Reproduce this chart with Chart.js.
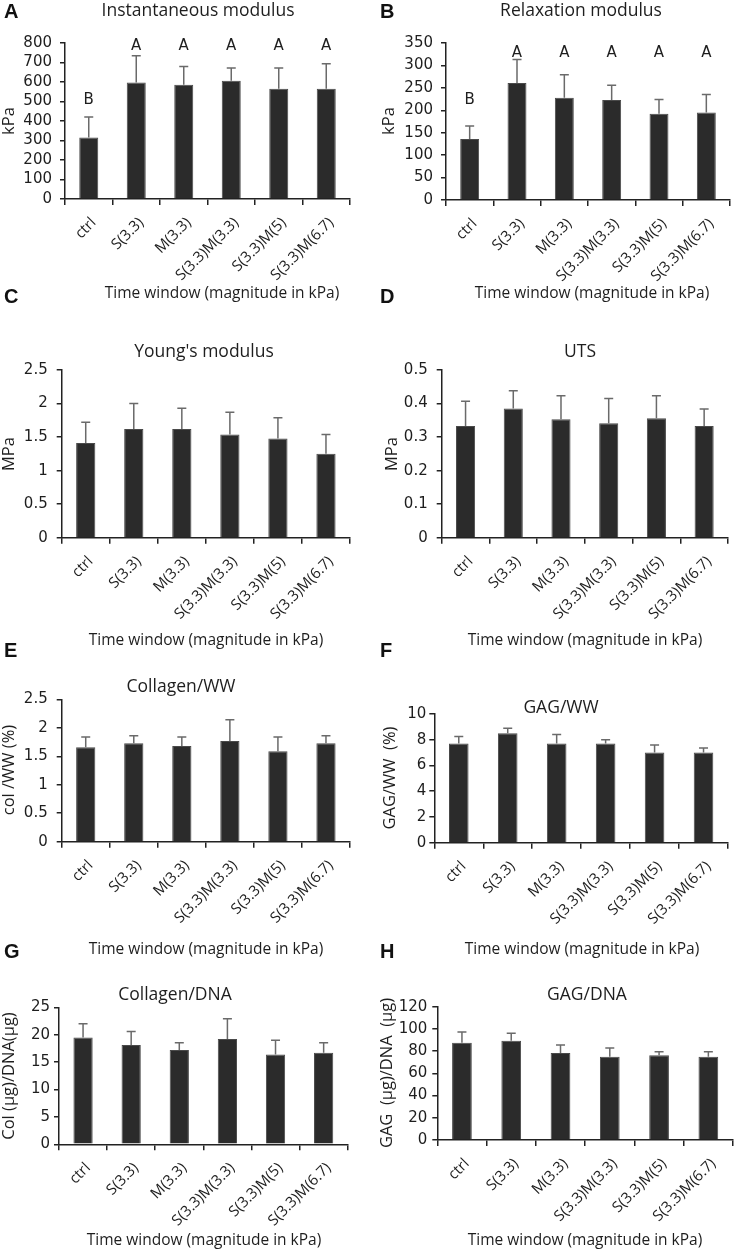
<!DOCTYPE html>
<html>
<head>
<meta charset="utf-8">
<script src="https://cdn.jsdelivr.net/npm/chart.js@4.4.0/dist/chart.umd.min.js"></script>
<style>
  body { margin: 0; background: #fff; width: 735px; height: 1254px; position: relative; overflow: hidden; }
  canvas { position: absolute; }
</style>
</head>
<body>
<canvas id="pA"></canvas>
<canvas id="pB"></canvas>
<canvas id="pC"></canvas>
<canvas id="pD"></canvas>
<canvas id="pE"></canvas>
<canvas id="pF"></canvas>
<canvas id="pG"></canvas>
<canvas id="pH"></canvas>
<script>
// groups (time window, magnitude in kPa)
const groups = ['ctrl', 'S(3.3)', 'M(3.3)', 'S(3.3)M(3.3)', 'S(3.3)M(5)', 'S(3.3)M(6.7)'];

// A - instantaneous modulus (kPa)
const instMean = [316, 598, 586, 607, 566, 566];
const instErr = [104, 137, 94, 65, 106, 128];
const instLetters = ['B', 'A', 'A', 'A', 'A', 'A'];

// B - relaxation modulus (kPa)
const relaxMean = [136, 261, 228, 223, 192, 195];
const relaxErr = [29, 52, 51, 33, 32, 40];
const relaxLetters = ['B', 'A', 'A', 'A', 'A', 'A'];

// C - Young's modulus (MPa)
const youngMean = [1.41, 1.62, 1.62, 1.54, 1.48, 1.25];
const youngErr = [0.31, 0.38, 0.31, 0.33, 0.31, 0.29];

// D - UTS (MPa)
const utsMean = [0.333, 0.385, 0.353, 0.341, 0.356, 0.333];
const utsErr = [0.074, 0.053, 0.07, 0.074, 0.067, 0.051];

// E - collagen / wet weight (%)
const colWwMean = [1.66, 1.73, 1.68, 1.77, 1.59, 1.73];
const colWwErr = [0.18, 0.13, 0.16, 0.37, 0.25, 0.13];

// F - GAG / wet weight (%)
const gagWwMean = [7.7, 8.5, 7.7, 7.7, 7.0, 7.0];
const gagWwErr = [0.55, 0.4, 0.7, 0.3, 0.6, 0.35];

// G - collagen / DNA
const colDnaMean = [19.5, 18.1, 17.2, 19.2, 16.4, 16.7];
const colDnaErr = [2.5, 2.5, 1.35, 3.7, 2.6, 1.85];

// H - GAG / DNA
const gagDnaMean = [87.6, 89.4, 78.3, 75, 76.2, 75];
const gagDnaErr = [9.6, 6.6, 7.2, 7.8, 3.3, 4.5];

const xTitle = 'Time window (magnitude in kPa)';
const TXT = '#1e1e1e';

// upper error bars with caps
const errorBars = {
  id: 'errorBars',
  afterDatasetsDraw(chart, args, opts) {
    const ctx = chart.ctx;
    const y = chart.scales.y;
    const meta = chart.getDatasetMeta(0);
    const vals = chart.data.datasets[0].data;
    ctx.save();
    ctx.strokeStyle = '#6a6a6a';
    ctx.lineWidth = 1.5;
    meta.data.forEach((bar, i) => {
      const y0 = y.getPixelForValue(vals[i]);
      const y1 = y.getPixelForValue(vals[i] + opts.errors[i]);
      ctx.beginPath();
      ctx.moveTo(bar.x, y0);
      ctx.lineTo(bar.x, y1);
      ctx.moveTo(bar.x - 4.5, y1);
      ctx.lineTo(bar.x + 4.5, y1);
      ctx.stroke();
    });
    ctx.restore();
  }
};

// significance letters over the bars
const sigLetters = {
  id: 'sigLetters',
  afterDatasetsDraw(chart, args, opts) {
    if (!opts.letters) return;
    const ctx = chart.ctx;
    const meta = chart.getDatasetMeta(0);
    ctx.save();
    ctx.fillStyle = TXT;
    ctx.font = '15px "DejaVu Sans"';
    ctx.textAlign = 'center';
    ctx.textBaseline = 'middle';
    meta.data.forEach((bar, i) => {
      const l = opts.letters[i];
      ctx.fillText(l, bar.x, chart.scales.y.getPixelForValue(opts.levels[l]));
    });
    ctx.restore();
  }
};

// panel letter, title and axis titles
const panelText = {
  id: 'panelText',
  afterDraw(chart, args, o) {
    const ctx = chart.ctx;
    const ox = o.origin[0], oy = o.origin[1];
    ctx.save();
    ctx.fillStyle = '#111';
    ctx.font = 'bold 20px "Liberation Sans"';
    ctx.textAlign = 'left';
    ctx.textBaseline = 'alphabetic';
    ctx.fillText(o.letter, o.letterPos[0] - ox, o.letterPos[1] - oy);

    ctx.fillStyle = TXT;
    ctx.textAlign = 'center';
    ctx.textBaseline = 'middle';
    ctx.font = '17.5px "Open Sans"';
    ctx.fillText(o.title, o.titlePos[0] - ox, o.titlePos[1] - oy);
    ctx.font = '15.5px "Open Sans"';
    ctx.fillText(xTitle, o.xTitlePos[0] - ox, o.xTitlePos[1] - oy);

    ctx.translate(o.yTitlePos[0] - ox, o.yTitlePos[1] - oy);
    ctx.rotate(-Math.PI / 2);
    ctx.font = '16.5px "Open Sans"';
    ctx.fillText(o.yTitle, 0, 0);
    ctx.restore();
  }
};

const fmt = v => String(+v.toFixed(3));

const panels = [
  { id: 'pA', letter: 'A', title: 'Instantaneous modulus', yTitle: 'kPa', mean: instMean, err: instErr,
    letters: instLetters, levels: { A: 785, B: 508 }, max: 800, step: 100,
    canvas: [0, 0, 368, 305], area: [65, 43, 350, 199], tickPad: 8,
    letterPos: [4, 18], titlePos: [198, 11], xTitlePos: [222, 294], yTitlePos: [9, 121] },
  { id: 'pB', letter: 'B', title: 'Relaxation modulus', yTitle: 'kPa', mean: relaxMean, err: relaxErr,
    letters: relaxLetters, levels: { A: 328, B: 223 }, max: 350, step: 50,
    canvas: [365, 0, 370, 305], area: [446, 43, 730, 200], tickPad: 8,
    letterPos: [380, 18], titlePos: [581, 11], xTitlePos: [592, 294], yTitlePos: [389, 121] },
  { id: 'pC', letter: 'C', title: "Young's modulus", yTitle: 'MPa', mean: youngMean, err: youngErr,
    max: 2.5, step: 0.5,
    canvas: [0, 280, 368, 375], area: [61.7, 370, 350, 537.7], tickPad: 9,
    letterPos: [4, 303], titlePos: [204, 352], xTitlePos: [206, 641], yTitlePos: [9, 454] },
  { id: 'pD', letter: 'D', title: 'UTS', yTitle: 'MPa', mean: utsMean, err: utsErr,
    max: 0.5, step: 0.1,
    canvas: [365, 280, 370, 375], area: [441.7, 370, 728, 537.7], tickPad: 9,
    letterPos: [380, 303], titlePos: [580, 352], xTitlePos: [585, 641], yTitlePos: [392, 454] },
  { id: 'pE', letter: 'E', title: 'Collagen/WW', yTitle: 'col /WW (%)', mean: colWwMean, err: colWwErr,
    max: 2.5, step: 0.5,
    canvas: [0, 635, 368, 325], area: [61.7, 699.3, 350, 841.7], tickPad: 9,
    letterPos: [4, 657], titlePos: [181, 687], xTitlePos: [206, 950], yTitlePos: [9, 770] },
  { id: 'pF', letter: 'F', title: 'GAG/WW', yTitle: 'GAG/WW  (%)', mean: gagWwMean, err: gagWwErr,
    max: 10, step: 2,
    canvas: [365, 635, 370, 325], area: [434.3, 714, 728, 842.7], tickPad: 3,
    letterPos: [380, 657], titlePos: [561, 708], xTitlePos: [582, 950], yTitlePos: [390, 778] },
  { id: 'pG', letter: 'G', title: 'Collagen/DNA', yTitle: 'Col (\u00b5g)/DNA(\u00b5g)', mean: colDnaMean, err: colDnaErr,
    max: 25, step: 5,
    canvas: [0, 935, 368, 319], area: [59, 1007.3, 347.7, 1144.3], tickPad: 4,
    letterPos: [4, 958], titlePos: [175, 995], xTitlePos: [204, 1241], yTitlePos: [9, 1076] },
  { id: 'pH', letter: 'H', title: 'GAG/DNA', yTitle: 'GAG  (\u00b5g)/DNA  (\u00b5g)', mean: gagDnaMean, err: gagDnaErr,
    max: 120, step: 20,
    canvas: [365, 935, 370, 319], area: [437.3, 1006.7, 733, 1140], tickPad: 5,
    letterPos: [380, 958], titlePos: [587, 995], xTitlePos: [585, 1241], yTitlePos: [387, 1073] }
];

const X_AXIS_H = 90;

panels.forEach(p => {
  const [cx, cy, cw, ch] = p.canvas;
  const [l, t, r, b] = p.area;
  const el = document.getElementById(p.id);
  el.width = cw; el.height = ch;
  el.style.left = cx + 'px'; el.style.top = cy + 'px';
  el.style.width = cw + 'px'; el.style.height = ch + 'px';

  new Chart(el, {
    type: 'bar',
    data: {
      labels: groups,
      datasets: [{
        data: p.mean,
        backgroundColor: '#2b2b2b',
        borderColor: '#4a4a4a',
        borderWidth: 1,
        categoryPercentage: 1,
        barPercentage: 0.4
      }]
    },
    options: {
      responsive: false,
      animation: false,
      devicePixelRatio: 1,
      layout: {
        padding: { left: 0, top: t - cy, right: cx + cw - r, bottom: cy + ch - b - X_AXIS_H }
      },
      plugins: {
        legend: { display: false },
        tooltip: { enabled: false },
        errorBars: { errors: p.err },
        sigLetters: { letters: p.letters, levels: p.levels },
        panelText: {
          origin: [cx, cy], letter: p.letter, title: p.title, yTitle: p.yTitle,
          letterPos: p.letterPos, titlePos: p.titlePos, xTitlePos: p.xTitlePos, yTitlePos: p.yTitlePos
        }
      },
      scales: {
        x: {
          afterFit: s => { s.height = X_AXIS_H; },
          border: { display: true, color: '#222', width: 1.5 },
          grid: { display: true, drawOnChartArea: false, drawTicks: true, tickLength: 6, color: '#222', lineWidth: 1.5 },
          ticks: {
            minRotation: 45, maxRotation: 45, padding: 9, labelOffset: 5, color: TXT,
            font: { family: 'Open Sans', size: 15 }
          }
        },
        y: {
          min: 0, max: p.max,
          afterFit: s => { s.width = l - cx; },
          border: { display: true, color: '#222', width: 1.5 },
          grid: { display: true, drawOnChartArea: false, drawTicks: true, tickLength: 5, color: '#222', lineWidth: 1.5 },
          ticks: {
            stepSize: p.step, padding: p.tickPad, color: TXT, autoSkip: false,
            font: { family: 'DejaVu Sans', size: 15 },
            callback: v => fmt(v)
          }
        }
      }
    },
    plugins: [errorBars, sigLetters, panelText]
  });
});
</script>
</body>
</html>
